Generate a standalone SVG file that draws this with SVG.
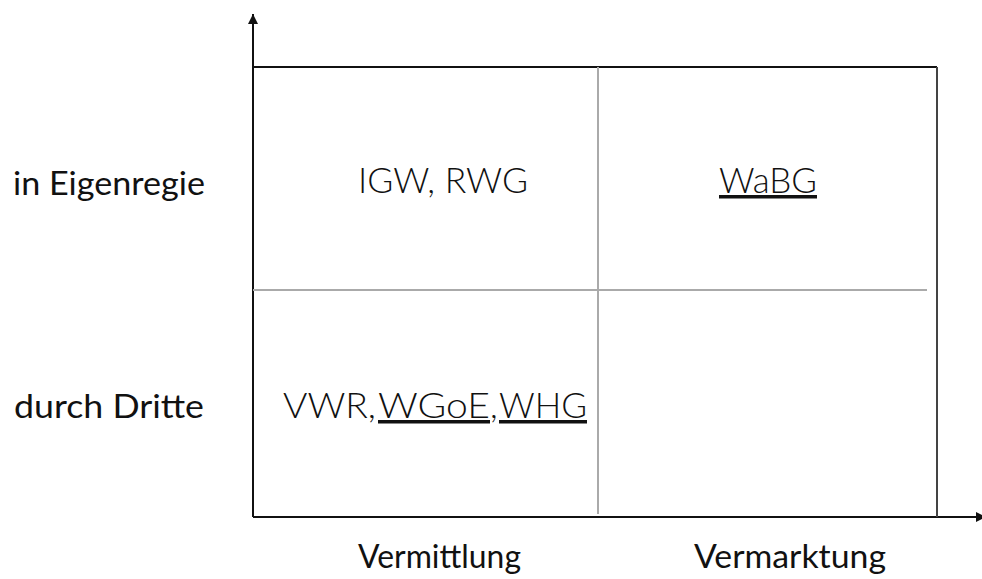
<svg xmlns="http://www.w3.org/2000/svg" width="982" height="579" viewBox="0 0 982 579">
<style>
.lab{font-family:"Lato","Open Sans","Liberation Sans",sans-serif;font-size:32px;fill:#111}
.cell{font-family:"Lato","Open Sans","Liberation Sans",sans-serif;font-weight:300;font-size:35px;fill:#111}
.u{text-decoration:underline}
.ax{stroke:#111;stroke-width:2;fill:none}
.grid{stroke:#aaa;stroke-width:2;fill:none}
</style>
<defs>
<marker id="arr" viewBox="0 0 10 10" refX="10" refY="5" markerWidth="10" markerHeight="10" markerUnits="userSpaceOnUse" orient="auto">
<path d="M0,0 L10,5 L0,10 z" fill="#111"/>
</marker>
</defs>
<g id="connectors">
<line class="ax" x1="253" y1="517" x2="253" y2="14" marker-end="url(#arr)"/>
<line class="ax" x1="253" y1="517" x2="986" y2="517" marker-end="url(#arr)"/>
<line class="ax" x1="253" y1="67" x2="937" y2="67"/>
<line class="ax" x1="937" y1="67" x2="937" y2="517" style="stroke:#444"/>
<line class="grid" x1="598" y1="67" x2="598" y2="514"/>
<line class="grid" x1="253" y1="290" x2="927" y2="290"/>
</g>
<g id="row1"><text class="lab" x="13" y="195" textLength="192" lengthAdjust="spacingAndGlyphs">in Eigenregie</text></g>
<g id="row2"><text class="lab" x="14" y="418" textLength="190" lengthAdjust="spacingAndGlyphs">durch Dritte</text></g>
<g id="col1"><text class="lab" x="358" y="568" textLength="163" lengthAdjust="spacingAndGlyphs">Vermittlung</text></g>
<g id="col2"><text class="lab" x="694" y="568" textLength="192" lengthAdjust="spacingAndGlyphs">Vermarktung</text></g>
<g id="cell11"><text class="cell" x="358" y="193" textLength="170" lengthAdjust="spacingAndGlyphs">IGW, RWG</text></g>
<g id="cell12"><text class="cell" x="719" y="193" textLength="98" lengthAdjust="spacingAndGlyphs"><tspan class="u">WaBG</tspan></text></g>
<g id="cell21"><text class="cell" y="418"><tspan x="283" textLength="93" lengthAdjust="spacingAndGlyphs">VWR,</tspan><tspan x="378" class="u" textLength="112" lengthAdjust="spacingAndGlyphs">WGoE</tspan><tspan x="490">,</tspan><tspan x="499" class="u" textLength="88" lengthAdjust="spacingAndGlyphs">WHG</tspan></text></g>
</svg>
